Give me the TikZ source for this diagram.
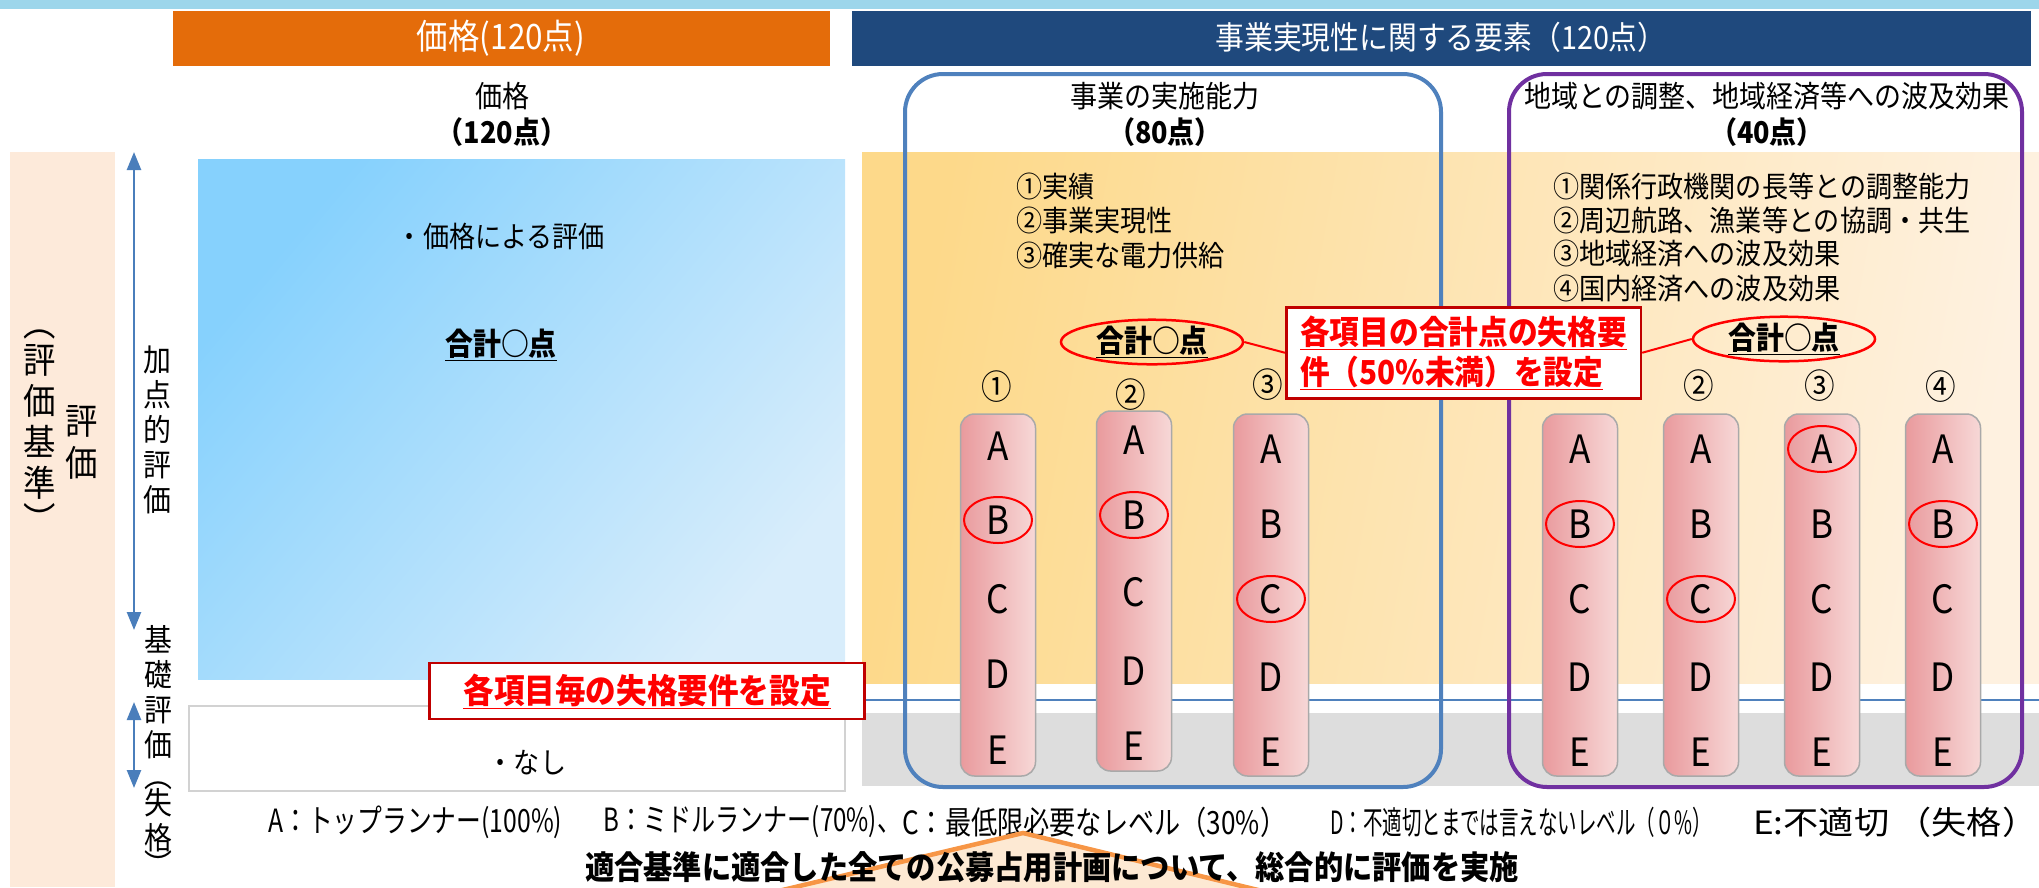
\documentclass[tikz,border=0pt]{standalone}
\usepackage{fontspec}
\setmainfont{Noto Sans CJK JP}[FakeStretch=0.9]
\usetikzlibrary{shapes.geometric,arrows.meta}
\definecolor{topbar}{HTML}{9DD6EB}
\definecolor{hdrorange}{HTML}{E46C0A}
\definecolor{hdrnavy}{HTML}{1F497D}
\definecolor{peachcol}{HTML}{FDEADA}
\definecolor{blueA}{HTML}{86D1FD}
\definecolor{blueB}{HTML}{D8EDFB}
\definecolor{yelA}{HTML}{FDD98A}
\definecolor{yelB}{HTML}{FEF1E0}
\definecolor{grayband}{HTML}{DDDDDD}
\definecolor{boxblue}{HTML}{4F81BD}
\definecolor{boxpurple}{HTML}{7030A0}
\definecolor{arrowblue}{HTML}{4A7EBB}
\definecolor{pillL}{HTML}{E99A9D}
\definecolor{pillR}{HTML}{F7D8D7}
\definecolor{pillborder}{HTML}{A9A9A9}
\definecolor{darkred}{HTML}{C00000}
\definecolor{chevron}{HTML}{F79646}
\definecolor{chevfill}{HTML}{FDE9D3}
\newcommand\fsz[2]{\fontsize{#1}{#2}\selectfont}
\newcommand\fitw[2]{\resizebox{#1}{\height}{#2}}
\tikzset{
  hdrtxt/.style={text=white, font=\fsz{32}{38}, inner sep=0},
  ttl/.style={font=\fsz{30}{36}, align=center, inner sep=0},
  itm/.style={anchor=west, font=\fsz{29}{34}, inner sep=0},
  num/.style={font=\fsz{34}{38}, inner sep=0},
  pill/.style={draw=pillborder, line width=1.5, rounded corners=14, minimum width=75,
     left color=pillL, right color=pillR, inner sep=0},
  letter/.style={font=\fsz{39}{42}, inner sep=0},
  redc/.style={draw=red, line width=2, ellipse, minimum width=68, minimum height=46, inner sep=0},
  redell/.style={draw=red, line width=2.5, ellipse, minimum width=182, minimum height=40, inner sep=0,
     font=\bfseries\fsz{31}{34}},
  redbox/.style={draw=darkred, line width=2.5, fill=white, text=red, font=\bfseries\fsz{33}{40}},
  biarrow/.style={draw=arrowblue, line width=2.5, {Triangle[width=14,length=18]}-{Triangle[width=14,length=18]}},
  vtxt/.style={align=center, inner sep=0},
  legpart/.style={anchor=west, font=\fsz{32}{36}, inner sep=0},
}
\begin{document}
\begin{tikzpicture}[x=1pt,y=-1pt]
\useasboundingbox (0,0) rectangle (2039,887);
% top bar
\fill[topbar] (0,0) rectangle (2039,9);
% headers
\fill[hdrorange] (173,11) rectangle (830,66);
\fill[hdrnavy] (852,11) rectangle (2031,66);
\node[hdrtxt, font=\fsz{35}{40}] (hP) at (501,38) {価格(120点)};
\node[hdrtxt] (hB) at (1441,37) {事業実現性に関する要素（120点）};
% left peach column
\fill[peachcol] (10,152) rectangle (115,887);
\node[vtxt, font=\fsz{36}{41}] (vl1) at (40,432) {︵\\[-4pt]評\\価\\基\\準\\[-4pt]︶};
\node[vtxt, font=\fsz{36}{42}] (vl2) at (82,442) {評\\価};
% arrows
\coordinate (a1t) at (134,152);
\coordinate (a1b) at (134,630);
\coordinate (a2t) at (134,702);
\coordinate (a2b) at (134,788);
\draw[biarrow] (a1t) -- (a1b);
\draw[biarrow] (a2t) -- (a2b);
\node[vtxt, font=\fsz{31}{35}] (vkt) at (157,430) {加\\点\\的\\評\\価};
\node[vtxt, font=\fsz{31}{35}, anchor=north] (vkb) at (158,625) {基\\礎\\評\\価\\[-4pt]︵\\[-8pt]失\\格\\[-8pt]︶};
% price column
\shade[top color=blueA, bottom color=blueB, shading angle=50] (198,159) rectangle (845,679);
\draw[gray!35, line width=2, fill=white] (189,706) rectangle (845,791);
\node[ttl] (tP) at (502,114) {価格\\\textbf{（120点）}};
\node[font=\fsz{29}{34}, inner sep=0] (pEval) at (501,236) {・価格による評価};
\node[font=\bfseries\fsz{31}{34}, inner sep=0] (pSum) at (501,345) {\underline{合計○点}};
\node[font=\fsz{29}{34}, inner sep=0] (pNone) at (527,763) {・なし};
% right background
\shade[left color=yelA, right color=yelB, shading angle=80] (862,152) rectangle (2039,683);
\fill[grayband] (862,713) rectangle (2039,786);
\coordinate (lineL) at (862,700);
\coordinate (lineR) at (2039,700);
\draw[boxblue, line width=2] (lineL) -- (lineR);
% group boxes
\draw[boxblue, line width=4, rounded corners=38] (905,74) rectangle (1441,787);
\draw[boxpurple, line width=4, rounded corners=38] (1509,74) rectangle (2022,787);
\node[ttl] (tB) at (1165,114) {事業の実施能力\\\textbf{（80点）}};
\node[ttl] (tR) at (1767,114) {地域との調整、地域経済等への波及効果\\\textbf{（40点）}};
% items
\node[itm] (iL1) at (1016,186) {①実績};
\node[itm] (iL2) at (1016,220) {②事業実現性};
\node[itm] (iL3) at (1016,255) {③確実な電力供給};
\node[itm] (iR1) at (1553,186) {①関係行政機関の長等との調整能力};
\node[itm] (iR2) at (1553,220) {②周辺航路、漁業等との協調・共生};
\node[itm] (iR3) at (1553,254) {③地域経済への波及効果};
\node[itm] (iR4) at (1553,289) {④国内経済への波及効果};
% sum ellipses
\node[redell] (ellL) at (1152,342) {\underline{合計○点}};
\node[redell] (ellR) at (1784,339) {\underline{合計○点}};
% numbers
\node[num] (nL1) at (997,387) {①};
\node[num] (nL2) at (1131,395) {②};
\node[num] (nL3) at (1268,385) {③};
\node[num] (nR2) at (1699,386) {②};
\node[num] (nR3) at (1820,386) {③};
\node[num] (nR4) at (1941,387) {④};
% pills
\node[pill, minimum height=362] (pc1) at (998,595) {};
\node[pill, minimum height=360] (pc2) at (1134,591) {};
\node[pill, minimum height=362] (pc3) at (1271,595) {};
\node[pill, minimum height=362] (pr1) at (1580,595) {};
\node[pill, minimum height=362] (pr2) at (1701,595) {};
\node[pill, minimum height=362] (pr3) at (1822,595) {};
\node[pill, minimum height=362] (pr4) at (1943,595) {};
\foreach \l/\y in {A/446,B/520,C/599,D/674,E/750}
  \node[letter] (c1-\l) at (998,\y) {\l};
\foreach \l/\y in {A/440,B/515,C/592,D/671,E/746}
  \node[letter] (c2-\l) at (1134,\y) {\l};
\foreach \c/\x in {c3/1271,r1/1580,r2/1701,r3/1822,r4/1943}
  \foreach \l/\y in {A/449,B/524,C/599,D/677,E/752}
    \node[letter] (\c-\l) at (\x,\y) {\l};
\node[redc] (o1) at (c1-B) {};
\node[redc] (o2) at (c2-B) {};
\node[redc] (o3) at (c3-C) {};
\node[redc] (o4) at (r1-B) {};
\node[redc] (o5) at (r2-C) {};
\node[redc] (o6) at (r3-A) {};
\node[redc] (o7) at (r4-B) {};
% red boxes
\node[redbox, minimum width=350, minimum height=91, align=left, anchor=north west, inner xsep=14]
  (box2) at (1285,306) {\underline{各項目の合計点の失格要}\\\underline{件（50\%未満）を設定}};
\draw[red, line width=2] (ellL.east) -- (box2.west);
\draw[red, line width=2] (ellR.west) -- (box2.east);
\node[redbox, minimum width=435, minimum height=56, font=\bfseries\fsz{34}{40}] (box1) at (647,691)
  {\underline{各項目毎の失格要件を設定}};
% legend: each part fitted (horizontally only) to its width in the reference
\node[legpart] (legA) at (268,822) {\fitw{294pt}{A：トップランナー(100\%)}};
\node[legpart] (legB) at (603,822) {\fitw{298pt}{B：ミドルランナー(70\%)、}};
\node[legpart] (legC) at (902,822) {\fitw{384pt}{C：最低限必要なレベル（30\%）}};
\node[legpart] (legD) at (1330,822) {\fitw{382pt}{D：不適切とまでは言えないレベル（０\%）}};
\node[legpart] (legE) at (1753,822) {\fitw{284pt}{E:不適切\hspace{6pt}（失格）}};
% bottom chevron and text
\coordinate (chL) at (753,897);
\coordinate (chP) at (1023,833);
\coordinate (chR) at (1287,897);
\draw[chevron, line width=4.5, fill=chevfill] (chL) -- (chP) -- (chR);
\node[font=\bfseries\fsz{32.5}{38}, inner sep=0] (bottom) at (1052,867)
  {適合基準に適合した全ての公募占用計画について、総合的に評価を実施};
\end{tikzpicture}
\end{document}
